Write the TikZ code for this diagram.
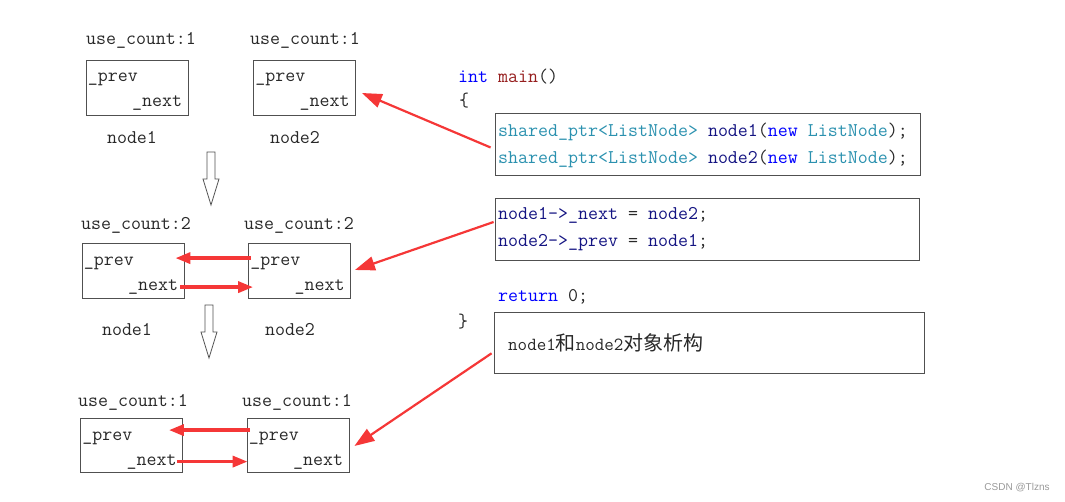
\documentclass[tikz,border=0pt]{standalone}
\usepackage{fontspec}
\newfontfamily\cjk{Noto Sans CJK SC}
\newfontfamily\wmark{Liberation Sans}
\usetikzlibrary{positioning,arrows.meta}
\definecolor{kwblue}{RGB}{0,0,255}
\definecolor{typeteal}{RGB}{43,145,175}
\definecolor{varnavy}{RGB}{20,20,130}
\definecolor{fnred}{RGB}{150,30,30}
\definecolor{txtgray}{RGB}{40,40,40}
\definecolor{boxgray}{RGB}{80,80,80}
\definecolor{ptrred}{RGB}{245,55,55}
\newcommand\zh[1]{{\cjk\fontsize{20}{22}\selectfont #1}}

\begin{document}
\begin{tikzpicture}[x=1pt, y=-1pt, text=txtgray,
    font=\ttfamily\fontsize{19.4}{23}\selectfont,
    obj/.style={draw=boxgray, line width=0.8pt, minimum width=102pt, minimum height=55pt, inner sep=0pt},
    codebox/.style={draw=boxgray, line width=0.8pt, inner sep=0pt},
    lbl/.style={anchor=base, inner sep=0pt},
    code/.style={anchor=base west, inner sep=0pt},
    ptr/.style={draw=ptrred, line width=3.4pt, -{Triangle[length=15pt,width=11pt]}},
    longptr/.style={draw=ptrred, line width=2.2pt, -{Triangle[length=20pt,width=14pt]}},
    pics/downarr/.style={code={\draw[line width=0.8pt, draw=boxgray]
      (-4,0) -- (4,0) -- (4,27) -- (8,27) -- (0,53) -- (-8,27) -- (-4,27) -- cycle;}}]
  \useasboundingbox (0,0) rectangle (1065,502);

  % first state
  \node (o11) [obj] at (137,87.5) {};
  \node (o12) [obj] at (304.5,87.5) {};
  \node (uc11) [lbl] at (141,45) {use\_count:1};
  \node (uc12) [lbl] at (305,45) {use\_count:1};
  \node (nm11) [lbl] at (132,144) {node1};
  \node (nm12) [lbl] at (295,144) {node2};
  \pic at (211,152) {downarr};

  % second state
  \node (o21) [obj] at (133,271) {};
  \node (o22) [obj] at (299.5,271) {};
  \node (uc21) [lbl] at (136,230) {use\_count:2};
  \node (uc22) [lbl] at (299,230) {use\_count:2};
  \node (nm21) [lbl] at (127,336) {node1};
  \node (nm22) [lbl] at (290,336) {node2};
  \pic at (209,305) {downarr};

  % third state
  \node (o31) [obj, minimum height=54pt] at (131.5,445.5) {};
  \node (o32) [obj, minimum height=54pt] at (298,445.5) {};
  \node (uc31) [lbl] at (133,406) {use\_count:1};
  \node (uc32) [lbl] at (297,406) {use\_count:1};

  \foreach \o in {o11,o12,o21,o22,o31,o32} {
    \node [code] at ([shift={(2,22)}]\o.north west) {\_prev};
    \node [anchor=base east, inner sep=0pt] at ([shift={(-6,47)}]\o.north east) {\_next};
  }

  % code
  \node (hdr) [code] at (458,83) {\textcolor{kwblue}{int} \textcolor{fnred}{main}()};
  \node (lbr) [code] at (459,107) {\{};
  \node (cA) [codebox, minimum width=425pt, minimum height=62pt] at (707.5,144) {};
  \node (a1) [code] at (498,136.5) {\textcolor{typeteal}{shared\_ptr<ListNode>} \textcolor{varnavy}{node1}(\textcolor{kwblue}{new} \textcolor{typeteal}{ListNode});};
  \node (a2) [code] at (498,163.5) {\textcolor{typeteal}{shared\_ptr<ListNode>} \textcolor{varnavy}{node2}(\textcolor{kwblue}{new} \textcolor{typeteal}{ListNode});};
  \node (cB) [codebox, minimum width=424pt, minimum height=62pt] at (707,229) {};
  \node (b1) [code] at (498,220) {\textcolor{varnavy}{node1->\_next} = \textcolor{varnavy}{node2};};
  \node (b2) [code] at (498,246.5) {\textcolor{varnavy}{node2->\_prev} = \textcolor{varnavy}{node1};};
  \node (ret) [code] at (498,301.5) {\textcolor{kwblue}{return} 0;};
  \node (rbr) [code] at (458,327) {\}};
  \node (cC) [codebox, minimum width=430pt, minimum height=61pt] at (709,343.3) {};
  \node (dtor) [code] at (508,350.5) {\fontsize{18.5}{22}\selectfont node1\zh{和}node2\zh{对象析构}};

  % pointers
  \draw[ptr] ([shift={(3,15)}]o22.north west) -- ([shift={(-9,15)}]o21.north east);
  \draw[ptr] ([shift={(-4,44)}]o21.north east) -- ([shift={(5,44)}]o22.north west);
  \draw[ptr] ([shift={(3,12)}]o32.north west) -- ([shift={(-14,12)}]o31.north east);
  \draw[ptr] ([shift={(-6,43.5)}]o31.north east) -- ([shift={(1,43.5)}]o32.north west);
  \draw[longptr] ([shift={(-4,3.5)}]cA.west) -- ([shift={(6,5.5)}]o12.east);
  \draw[longptr] ([shift={(-1,-7)}]cB.west) -- ([shift={(4,-1)}]o22.east);
  \draw[longptr] ([shift={(-2,10)}]cC.west) -- ([shift={(5,0.5)}]o32.east);

  \node (wm) [text=gray!80, font=\wmark\fontsize{10}{12}\selectfont, inner sep=0pt] at (1017,488) {CSDN @Tlzns};
\end{tikzpicture}
\end{document}
